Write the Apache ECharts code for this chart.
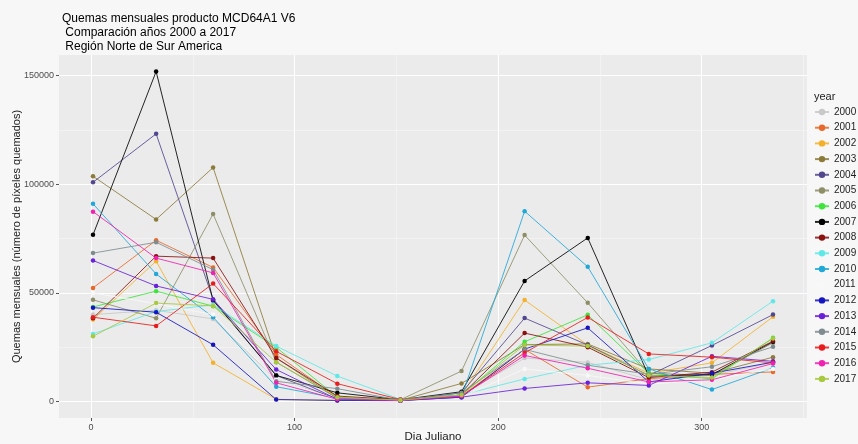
<!DOCTYPE html>
<html>
<head>
<meta charset="utf-8">
<script src="https://cdn.jsdelivr.net/npm/echarts@6/dist/echarts.min.js"></script>
<style>
html,body{margin:0;padding:0;background:#F7F7F7;}
#chart{width:858px;height:444px;}
</style>
</head>
<body>
<div id="chart"></div>
<script>
// Julian day of the first day of each month
const days = [1, 32, 60, 91, 121, 152, 182, 213, 244, 274, 305, 335];
const years = ['2000','2001','2002','2003','2004','2005','2006','2007','2008',
               '2009','2010','2011','2012','2013','2014','2015','2016','2017'];
const xMajorTicks = [0, 100, 200, 300];
const xMinorTicks = [50, 150, 250, 350];
const yMajorTicks = [0, 50000, 100000, 150000];
const yMinorTicks = [25000, 75000, 125000];

const v2000 = [40000, 42000, 38000, 10000, 1500, 500, 3000, 20000, 18000, 10000, 12000, 18000];
const v2001 = [52300, 74200, 61700, 21600, 2000, 600, 2500, 24000, 6600, 10500, 12500, 13600];
const v2002 = [37700, 64600, 17800, 1000, 500, 400, 3000, 46700, 26000, 13000, 17800, 39000];
const v2003 = [103700, 83800, 107700, 20000, 1500, 600, 8300, 26200, 26500, 15000, 13000, 20400];
const v2004 = [100900, 123200, 47000, 12000, 1000, 500, 4000, 38400, 26000, 12000, 25800, 40000];
const v2005 = [46800, 38300, 86300, 18100, 1500, 800, 14000, 76600, 45400, 13000, 12000, 27000];
const v2006 = [43500, 50800, 43900, 24900, 2000, 700, 3000, 27500, 39900, 13000, 10400, 29300];
const v2007 = [76700, 151900, 46500, 12000, 4000, 800, 4500, 55500, 75300, 11700, 12400, 27500];
const v2008 = [38300, 66900, 66000, 20000, 2500, 800, 3000, 31500, 25000, 11000, 13500, 27800];
const v2009 = [31100, 41400, 44500, 25500, 11700, 1000, 3000, 10400, 16700, 19300, 27000, 46200];
const v2010 = [91000, 58700, 38800, 6800, 1500, 500, 2000, 87600, 62000, 15000, 5500, 15500];
const v2011 = [50000, 45000, 40000, 10000, 1000, 500, 2000, 15000, 12000, 8000, 10000, 15000];
const v2012 = [43200, 41100, 26100, 900, 500, 400, 2000, 24100, 33900, 9000, 13000, 18100];
const v2013 = [64900, 53200, 47000, 14700, 1000, 500, 2000, 6000, 8600, 7400, 20800, 18500];
const v2014 = [68300, 73300, 60700, 9300, 5900, 600, 4000, 24000, 16700, 12500, 16000, 25200];
const v2015 = [38800, 34800, 54300, 23100, 8200, 900, 2500, 22400, 38700, 21900, 20400, 17800];
const v2016 = [87400, 66000, 59200, 8600, 1000, 500, 2500, 21200, 15300, 9000, 10000, 17500];
const v2017 = [30000, 45300, 44000, 18100, 2000, 600, 3000, 26000, 25500, 12000, 11000, 29000];

const values = [v2000, v2001, v2002, v2003, v2004, v2005, v2006, v2007, v2008,
                v2009, v2010, v2011, v2012, v2013, v2014, v2015, v2016, v2017];
const colors = ['#C8C8C8','#E8682A','#F4B02A','#8C7A3A','#52468F','#8E8E68','#3CE43C','#000000','#8B1010',
                '#60E8E8','#20A8D8','#F8F8F8','#1414C0','#6A20D8','#7E8C90','#E81C1C','#F020B0','#A8C840'];

const chart = echarts.init(document.getElementById('chart'));

const series = years.map((y, k) => ({
  name: y,
  type: 'line',
  xAxisIndex: 0,
  yAxisIndex: 0,
  data: days.map((d, i) => [d, values[k][i]]),
  symbol: 'circle',
  symbolSize: 4.5,
  showSymbol: true,
  lineStyle: { width: 1, color: colors[k], opacity: 0.85 },
  itemStyle: { color: colors[k] },
  emphasis: { disabled: true },
  animation: false
}));

const font = 'Liberation Sans, Arial, sans-serif';
const tickLabelStyle = { color: '#4D4D4D', fontSize: 9, fontFamily: font };

chart.setOption({
  backgroundColor: '#F7F7F7',
  animation: false,
  color: colors,
  title: [
    {
      text: 'Quemas mensuales producto MCD64A1 V6\n Comparación años 2000 a 2017\n Región Norte de Sur America',
      left: 57, top: 7,
      textStyle: { fontSize: 12, fontWeight: 'normal', color: '#000', lineHeight: 14, fontFamily: font }
    },
    {
      text: 'year', left: 809, top: 86,
      textStyle: { fontSize: 11, fontWeight: 'normal', color: '#222', fontFamily: font }
    }
  ],
  legend: {
    orient: 'vertical',
    left: 809, top: 102,
    itemWidth: 14, itemHeight: 8, itemGap: 5.7,
    data: years,
    textStyle: { fontSize: 10, color: '#222', fontFamily: font },
    selectedMode: false
  },
  grid: {
    left: 59, right: 51, top: 55, bottom: 26,
    outerBoundsMode: 'none',
    containLabel: false,
    show: true, backgroundColor: '#EBEBEB', borderWidth: 0
  },
  xAxis: [
    {
      type: 'value', min: -15.7, max: 351.7,
      name: 'Dia Juliano', nameLocation: 'middle', nameGap: 13, nameMoveOverlap: false,
      nameTextStyle: { fontSize: 11.5, color: '#222', fontFamily: font },
      axisLine: { show: false, onZero: false },
      axisTick: { show: true, length: 3, lineStyle: { color: '#555' }, customValues: xMajorTicks },
      axisLabel: Object.assign({ customValues: xMajorTicks, margin: 5 }, tickLabelStyle),
      splitLine: { show: true, lineStyle: { color: '#FFFFFF', width: 1.1 } }
    },
    {
      type: 'value', min: -15.7, max: 351.7, position: 'bottom',
      axisLine: { show: false, onZero: false },
      axisTick: { show: false, customValues: xMinorTicks },
      axisLabel: { show: false, customValues: xMinorTicks },
      splitLine: { show: true, lineStyle: { color: '#F6F6F6', width: 0.6 } }
    }
  ],
  yAxis: [
    {
      type: 'value', min: -7595, max: 159495,
      name: 'Quemas mensuales (número de píxeles quemados)', nameLocation: 'middle', nameGap: 37,
      nameMoveOverlap: false,
      nameRotate: 90,
      nameTextStyle: { fontSize: 11, color: '#222', fontFamily: font },
      axisLine: { show: false, onZero: false },
      axisTick: { show: true, length: 3, lineStyle: { color: '#555' }, customValues: yMajorTicks },
      axisLabel: Object.assign({ customValues: yMajorTicks, margin: 5, formatter: v => String(v) }, tickLabelStyle),
      splitLine: { show: true, lineStyle: { color: '#FFFFFF', width: 1.1 } }
    },
    {
      type: 'value', min: -7595, max: 159495, position: 'left',
      axisLine: { show: false, onZero: false },
      axisTick: { show: false, customValues: yMinorTicks },
      axisLabel: { show: false, customValues: yMinorTicks },
      splitLine: { show: true, lineStyle: { color: '#F6F6F6', width: 0.6 } }
    }
  ],
  series: series
});
</script>
</body>
</html>
